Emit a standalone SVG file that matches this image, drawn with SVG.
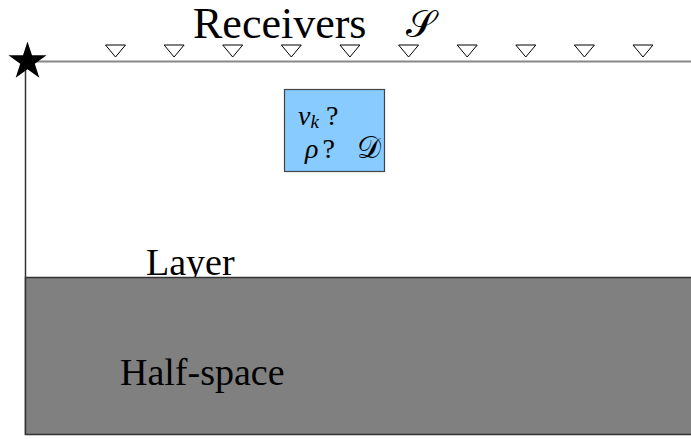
<svg xmlns="http://www.w3.org/2000/svg" width="691" height="439" viewBox="0 0 691 439">
<style>
.serif{font-family:"Liberation Serif","Times New Roman",serif;fill:#000}
.math{font-family:"Liberation Serif","DejaVu Serif",serif;font-style:italic;fill:#000}
.cal{font-family:"DejaVu Serif","DejaVu Sans","Noto Sans",serif;fill:#000}
</style>
<defs>
<path id="tri" d="M-10,-6 L10,-6 L0,6 Z"/>
</defs>
<rect x="0" y="0" width="691" height="439" fill="#fff"/>
<g id="layer">
<line x1="25.5" y1="62" x2="25.5" y2="435" stroke="#333" stroke-width="1.5"/>
<line x1="25" y1="61.5" x2="691" y2="61.5" stroke="#888" stroke-width="2"/>
<text class="serif" x="146" y="275" font-size="38">Layer</text>
</g>
<g id="halfspace">
<rect x="25.5" y="277.5" width="700" height="157" fill="#808080" stroke="#333" stroke-width="1.5"/>
<text class="serif" x="120" y="385" font-size="38">Half-space</text>
</g>
<g id="domain">
<rect x="284.5" y="89.5" width="100" height="82" fill="#87cbff" stroke="#444" stroke-width="1.2"/>
<text class="math" x="298" y="125" font-size="28">v<tspan font-size="19" dy="3">k</tspan><tspan font-style="normal" dx="7" dy="-3">?</tspan></text>
<text class="math" x="305" y="158" font-size="28">ρ<tspan font-style="normal" dx="4">?</tspan></text>
<text class="cal" x="357" y="158" font-size="30">𝒟</text>
</g>
<g id="receivers">
<text class="serif" x="193" y="38" font-size="44">Receivers</text>
<text class="cal" x="406" y="37" font-size="38">𝒮</text>
<g fill="#fff" stroke="#000" stroke-width="1">
<use href="#tri" x="115.5" y="51"/>
<use href="#tri" x="174.1" y="51"/>
<use href="#tri" x="232.7" y="51"/>
<use href="#tri" x="291.3" y="51"/>
<use href="#tri" x="349.9" y="51"/>
<use href="#tri" x="408.6" y="51"/>
<use href="#tri" x="467.2" y="51"/>
<use href="#tri" x="525.8" y="51"/>
<use href="#tri" x="584.4" y="51"/>
<use href="#tri" x="643" y="51"/>
</g>
</g>
<g id="source">
<polygon transform="translate(27.5,61.5) scale(1.18)" points="0,-17 3.82,-5.26 16.17,-5.25 6.18,2.01 10,13.75 0,6.5 -10,13.75 -6.18,2.01 -16.17,-5.25 -3.82,-5.26" fill="#000"/>
</g>
<g id="connectors"></g>
</svg>
